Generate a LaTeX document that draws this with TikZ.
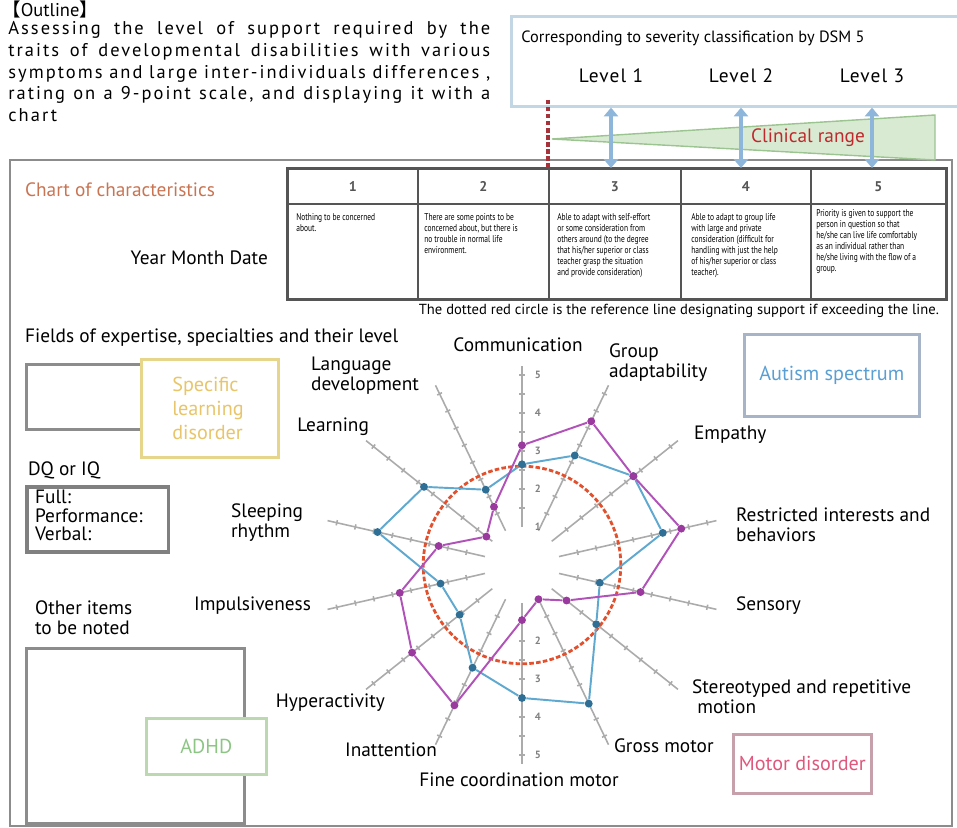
\documentclass[tikz,border=0pt]{standalone}
\usepackage{fontspec}
\setmainfont{PT Sans}
\newfontfamily\cjkfont{Noto Sans CJK JP}
\newfontfamily\narrowfont[FakeStretch=0.76]{PT Sans}
\newfontfamily\spacedfont[LetterSpace=11]{PT Sans}
\newfontfamily\levelfont[LetterSpace=6]{PT Sans}
\newcommand\jline[1]{\makebox[9.64cm][s]{#1}}
\usetikzlibrary{calc,arrows.meta,positioning}

\definecolor{lineblue}{HTML}{5FA8CF}
\definecolor{ptblue}{HTML}{2F6F96}
\definecolor{linepurple}{HTML}{B152B9}
\definecolor{ptpurple}{HTML}{9A3A9E}
\definecolor{refred}{HTML}{E2502E}
\definecolor{axisgray}{HTML}{ABABAB}
\definecolor{framegray}{HTML}{8C8C8C}
\definecolor{tablegray}{HTML}{555555}
\definecolor{charttitle}{HTML}{C97452}
\definecolor{sldtext}{HTML}{E8C56A}
\definecolor{sldframe}{HTML}{E6D68C}
\definecolor{adhdtext}{HTML}{8CC584}
\definecolor{adhdframe}{HTML}{BCD8B0}
\definecolor{motortext}{HTML}{E0577D}
\definecolor{motorframe}{HTML}{C6A0AA}
\definecolor{asdtext}{HTML}{5A9FD4}
\definecolor{asdframe}{HTML}{A7B4C8}
\definecolor{dsmframe}{HTML}{C2D6E4}
\definecolor{arrowblue}{HTML}{8DB6DA}
\definecolor{rangegreen}{HTML}{D8EBD2}
\definecolor{rangeedge}{HTML}{9CC490}
\definecolor{clinred}{HTML}{C0282D}
\definecolor{dashred}{HTML}{A8323A}

\tikzset{
  lbl/.style={inner sep=1pt, align=left, font=\fontsize{11}{11.4}\selectfont},
  hdcell/.style={draw=tablegray, line width=1pt, anchor=north west, inner sep=0pt,
    minimum height=0.7cm, text=tablegray, font=\bfseries\fontsize{8}{9}\selectfont},
  bodycell/.style={draw=tablegray, line width=1pt, anchor=north west, inner sep=0pt,
    minimum height=1.9cm},
  celltext/.style={anchor=north west, inner sep=0pt, align=left,
    font=\narrowfont\fontsize{5.6}{6.25}\selectfont},
  catbox/.style={fill=white, line width=1.5pt, anchor=north west, inner sep=0pt,
    align=left, font=\fontsize{11.5}{13.6}\selectfont},
  plainbox/.style={draw=framegray, line width=1.6pt, anchor=north west, inner sep=0pt},
  levelarrow/.style={arrowblue, line width=2.4pt,
    {Triangle[width=8pt,length=5pt]}-{Triangle[width=8pt,length=5pt]}},
  refdash/.style={dashred, line width=1.8pt, dash pattern=on 2.5pt off 1.5pt},
  axisline/.style={axisgray, line width=0.9pt},
  axistick/.style={axisgray, line width=0.9pt},
  axisnum/.style={inner sep=0pt, text=gray, font=\bfseries\fontsize{6}{6}\selectfont},
  refcircle/.style={refred, line width=1.6pt, dash pattern=on 2.6pt off 1.3pt},
  blueline/.style={lineblue, line width=1.1pt},
  purpleline/.style={linepurple, line width=1.1pt},
  bluept/.style={circle, fill=ptblue, inner sep=0pt, minimum size=4.5pt},
  purplept/.style={circle, fill=ptpurple, inner sep=0pt, minimum size=4.5pt}
}

\begin{document}
\begin{tikzpicture}[x=0.02cm, y=-0.02cm]
  \useasboundingbox (0,0) rectangle (957,828);
  \fill[white] (0,0) rectangle (957,828);

  % outline text
  \node[anchor=west, inner sep=0pt, font=\fontsize{10.5}{12}\selectfont] (outhead) at (2,9)
    {{\cjkfont 【}Outline{\cjkfont 】}};
  \node[anchor=north west, inner sep=0pt, align=left,
    font=\spacedfont\fontsize{10.5}{12.4}\selectfont] (outbody) at (8,21)
    {\jline{Assessing the level of support required by the}\\
     \jline{traits of developmental disabilities with various}\\
     \jline{symptoms and large inter-individuals differences ,}\\
     \jline{rating on a 9-point scale, and displaying it with a}\\
     chart};

  % main frame
  \draw[framegray, line width=1.4pt] (10,160) rectangle (952,826);

  % DSM 5 box
  \node[draw=dsmframe, line width=1.5pt, anchor=north west, inner sep=0pt,
    minimum width=9.4cm, minimum height=1.8cm] (dsm) at (510,15) {};
  \node[lbl, font=\fontsize{9.3}{10}\selectfont] (dsmtitle) at (693,38)
    {Corresponding to severity classification by DSM 5};
  \node[lbl, font=\levelfont\fontsize{11}{11.4}\selectfont] (lvl1) at (611,76) {Level 1};
  \node[lbl, font=\levelfont\fontsize{11}{11.4}\selectfont] (lvl2) at (741,76) {Level 2};
  \node[lbl, font=\levelfont\fontsize{11}{11.4}\selectfont] (lvl3) at (872,76) {Level 3};

  % clinical range wedge
  \coordinate (tip) at (552,139);
  \filldraw[fill=rangegreen, draw=rangeedge, line width=0.8pt]
    (tip) -- (935,115) -- (935,160) -- cycle;

  % table
  \foreach \i/\x/\w in {1/287/130,2/417/131,3/548/132,4/680/130,5/810/135} {
    \node[hdcell, minimum width=\w*0.02cm] (hd\i) at (\x,168) {\i};
    \node[bodycell, minimum width=\w*0.02cm] (cell\i) at (\x,203) {};
  }
  \draw[tablegray, line width=1.6pt] (hd1.north west) rectangle (cell5.south east);
  \node[celltext] (txt1) at ($(cell1.north west)+(9,10)$)
    {Nothing to be concerned\\about.};
  \node[celltext] (txt2) at ($(cell2.north west)+(7,10)$)
    {There are some points to be\\concerned about, but there is\\no trouble in normal life\\environment.};
  \node[celltext] (txt3) at ($(cell3.north west)+(9,10)$)
    {Able to adapt with self-effort\\or some consideration from\\others around (to the degree\\that his/her superior or class\\teacher grasp the situation\\and provide consideration)};
  \node[celltext] (txt4) at ($(cell4.north west)+(11,10)$)
    {Able to adapt to group life\\with large and private\\consideration (difficult for\\handling with just the help\\of his/her superior or class\\teacher).};
  \node[celltext] (txt5) at ($(cell5.north west)+(6,6)$)
    {Priority is given to support the\\person in question so that\\he/she can live life comfortably\\as an individual rather than\\he/she living with the flow of a\\group.};

  % level arrows and reference line
  \foreach \i in {1,2,3}
    \draw[levelarrow] (lvl\i.south |- dsm.south) -- (lvl\i.south |- hd1.north);
  \coordinate (refTop) at (548,100);
  \draw[refdash] (refTop) -- (refTop |- hd1.north);
  \node[lbl, text=clinred] (clin) at (808,138) {Clinical range};

  % left column
  \node[lbl, anchor=west, text=charttitle, font=\fontsize{11}{12}\selectfont] (chart) at (23,190)
    {Chart of characteristics};
  \node[lbl, anchor=east] (date) at (270,258) {Year Month Date};
  \node[lbl, anchor=east, font=\fontsize{8.3}{9}\selectfont] (note) at (941,311)
    {The dotted red circle is the reference line designating support if exceeding the line.};
  \node[lbl, anchor=west] (fields) at (23,338) {Fields of expertise, specialties and their level};
  \node[plainbox, minimum width=3cm, minimum height=1.3cm] (fieldbox) at (25,363) {};
  \node[catbox, draw=sldframe, text=sldtext, minimum width=2.74cm, minimum height=1.96cm,
    text width=2.1cm] (sld) at (140,358)
    {\hspace*{0.3cm}Specific\\\hspace*{0.3cm}learning\\\hspace*{0.3cm}disorder};
  \node[lbl, anchor=west] (iq) at (26,470) {DQ or IQ};
  \node[plainbox, draw=gray, line width=2pt, minimum width=2.84cm, minimum height=1.3cm] (iqbox)
    at (25,485) {};
  \node[lbl, anchor=north west, font=\fontsize{11}{10.6}\selectfont] (iqtext) at (33,488)
    {Full:\\Performance:\\Verbal:};
  \node[lbl, anchor=west] (other) at (33,618) {Other items\\to be noted};
  \node[plainbox, minimum width=4.36cm, minimum height=3.5cm] (notebox) at (25,647) {};
  \node[catbox, draw=adhdframe, text=adhdtext, align=center, minimum width=2.4cm,
    minimum height=1.12cm] (adhd) at (145,717) {ADHD};

  % right column
  \node[catbox, draw=asdframe, text=asdtext, align=center, minimum width=3.5cm,
    minimum height=1.64cm] (asd) at (743,333) {Autism spectrum};
  \node[catbox, draw=motorframe, text=motortext, align=center, minimum width=2.76cm,
    minimum height=1.18cm] (motor) at (732,733) {Motor disorder};

  % radar chart
  \begin{scope}[shift={(522,565)}, x=0.76cm, y=0.76cm]
    \foreach \k in {0,...,13} {
      \begin{scope}[rotate={90-\k*360/14}]
        \draw[axisline] (1,0) -- (5.25,0);
        \foreach \t in {1.5,2,...,5}
          \draw[axistick] (\t,-0.07) -- (\t,0.07);
      \end{scope}
    }
    \foreach \v in {1,...,5}
      \node[axisnum] (tn\v) at (0.42,\v) {\v};
    \foreach \v in {2,...,5}
      \node[axisnum] (bn\v) at (0.42,-\v) {\v};

    \draw[refcircle] (0,0) circle (2.6);

    \foreach \v [count=\k from 0] in {2.65,3.2,3.75,3.8,2.1,2.5,4.05,3.5,3.0,2.1,2.2,3.9,3.3,2.2}
      \node[bluept] (b\k) at ({90-\k*360/14}:\v) {};
    \foreach \v [count=\k from 0] in {3.15,4.2,3.75,4.3,3.2,1.5,1.0,1.45,4.1,3.7,3.3,2.25,1.2,1.7}
      \node[purplept] (p\k) at ({90-\k*360/14}:\v) {};
    \foreach \k in {0,...,13} {
      \pgfmathtruncatemacro\n{mod(\k+1,14)}
      \draw[blueline] (b\k) -- (b\n);
      \draw[purpleline] (p\k) -- (p\n);
    }
  \end{scope}

  % axis labels
  \node[lbl] (comm) at (518,345) {Communication};
  \node[lbl, anchor=west] (group) at (607,363) {Group\\adaptability};
  \node[lbl, anchor=west] (empathy) at (692,435) {Empathy};
  \node[lbl, anchor=west] (restr) at (734,525) {Restricted interests and\\behaviors};
  \node[lbl, anchor=west] (sensory) at (734,606) {Sensory};
  \node[lbl, anchor=west] (stereo) at (690,697) {Stereotyped and repetitive\\\hspace*{3pt}motion};
  \node[lbl, anchor=west] (gross) at (612,746) {Gross motor};
  \node[lbl] (fine) at (519,780) {Fine coordination motor};
  \node[lbl, anchor=east] (inatt) at (439,750) {Inattention};
  \node[lbl, anchor=east] (hyper) at (387,703) {Hyperactivity};
  \node[lbl, anchor=east] (impuls) at (313,606) {Impulsiveness};
  \node[lbl, anchor=west] (sleep) at (229,523) {Sleeping\\rhythm};
  \node[lbl, anchor=east] (learn) at (371,427) {Learning};
  \node[lbl, anchor=west] (lang) at (309,376) {Language\\development};
\end{tikzpicture}
\end{document}
